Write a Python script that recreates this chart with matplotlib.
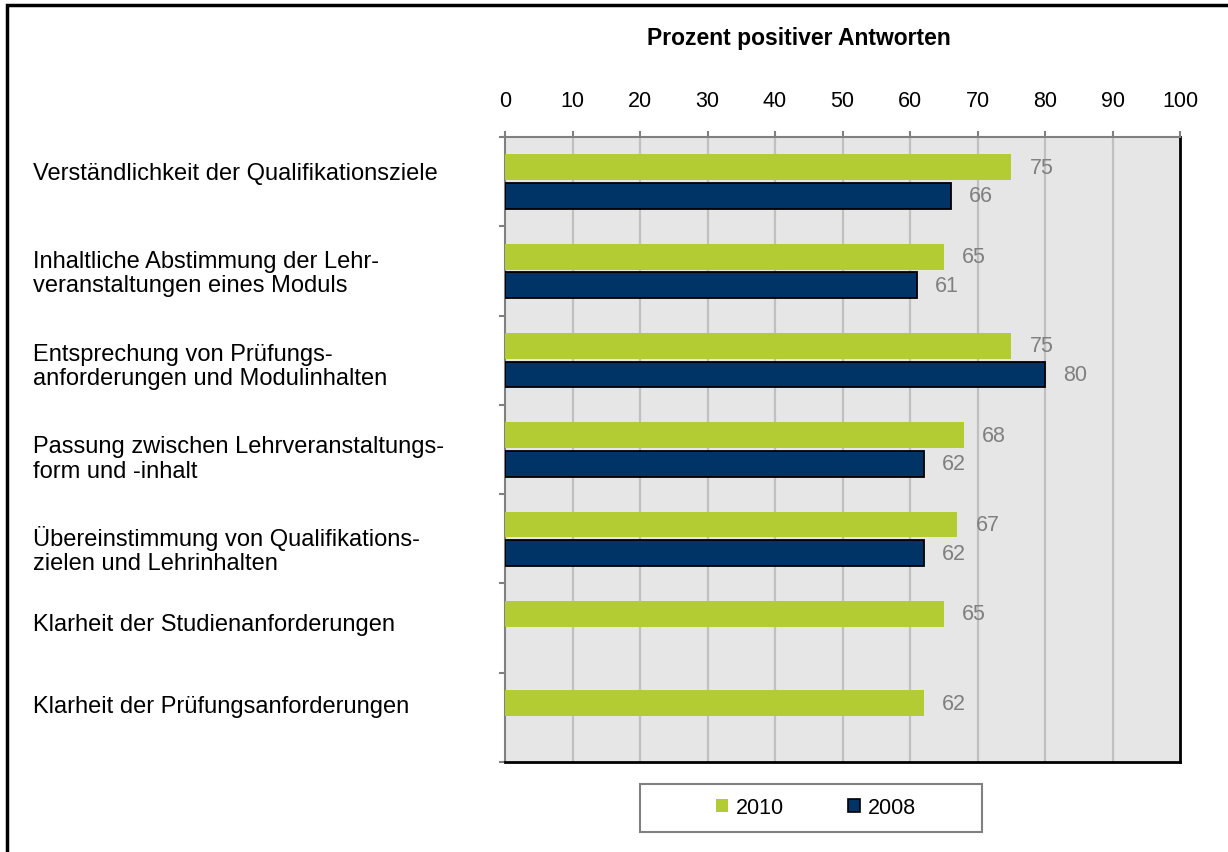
import matplotlib
matplotlib.use("Agg")
import matplotlib.pyplot as plt
import numpy as np
from matplotlib.patches import Rectangle, Patch

plt.rcParams['font.family'] = ['Liberation Sans', 'DejaVu Sans']

categories = [
    "Verständlichkeit der Qualifikationsziele",
    "Inhaltliche Abstimmung der Lehr-\nveranstaltungen eines Moduls",
    "Entsprechung von Prüfungs-\nanforderungen und Modulinhalten",
    "Passung zwischen Lehrveranstaltungs-\nform und -inhalt",
    "Übereinstimmung von Qualifikations-\nzielen und Lehrinhalten",
    "Klarheit der Studienanforderungen",
    "Klarheit der Prüfungsanforderungen",
]
values_2010 = [75, 65, 75, 68, 67, 65, 62]
values_2008 = [66, 61, 80, 62, 62, np.nan, np.nan]
series_names = ["2010", "2008"]
xticks = list(range(0, 101, 10))
title = "Prozent positiver Antworten"

# layout only: vertical nudge (pixels, down positive) of the category labels
label_nudge_px = [-9, 2, 6, 9, 11, -4, -11]

green = "#b3cc34"
navy = "#003366"
W, H = 1228, 853
fig = plt.figure(figsize=(W / 100, H / 100), dpi=100)
ax = fig.add_axes([505 / W, 1 - 763 / H, (1180 - 505) / W, (763 - 138) / H])
ax.set_facecolor("#e6e6e6")

n = len(categories)
centers = np.arange(n) + 0.5
h = 0.29
off = 0.16
ax.barh(centers - off, values_2010, height=h, color=green, edgecolor="none", zorder=3)
v08 = np.array(values_2008, dtype=float)
ax.barh(centers + off, np.nan_to_num(v08), height=h, color=navy, edgecolor="black",
        linewidth=1.3, zorder=3)
for i, p in enumerate(ax.patches[n:]):
    if np.isnan(v08[i]):
        p.set_visible(False)

lab_fs = 15.5
for i, v in enumerate(values_2010):
    ax.text(v + 2.7, centers[i] - off, f"{v:g}", color="#808080", fontsize=lab_fs,
            va="center", ha="left", zorder=4)
for i, v in enumerate(v08):
    if not np.isnan(v):
        ax.text(v + 2.7, centers[i] + off, f"{v:g}", color="#808080", fontsize=lab_fs,
                va="center", ha="left", zorder=4)

ax.set_xlim(0, 100)
ax.set_ylim(n, 0)
ax.set_xticks(xticks)
ax.xaxis.tick_top()
ax.tick_params(axis="x", which="both", direction="out", length=4.5, width=1.5,
               color="#808080", labelsize=15.5, pad=14)
ax.set_yticks(np.arange(n + 1))
ax.set_yticklabels([])
ax.tick_params(axis="y", direction="out", length=4.5, width=1.5, color="#808080")
for x in xticks[1:-1]:
    ax.axvline(x, color="#c0c0c0", lw=1.6, zorder=1)

ax.spines["top"].set_color("#808080")
ax.spines["left"].set_color("#808080")
ax.spines["top"].set_linewidth(1.5)
ax.spines["left"].set_linewidth(1.5)
ax.spines["right"].set_color("black")
ax.spines["bottom"].set_color("black")
ax.spines["right"].set_linewidth(2)
ax.spines["bottom"].set_linewidth(2)

for i, c in enumerate(categories):
    y = 1 - (138 + (763 - 138) * centers[i] / n + label_nudge_px[i]) / H
    fig.text(33 / W, y, c, fontsize=17, ha="left", va="center", linespacing=1.13)

fig.text(799 / W, 1 - 38 / H, title, fontsize=16.5, fontweight="bold",
         ha="center", va="center")

fig.patches.append(Rectangle((640 / W, 1 - 833 / H), (982 - 640) / W, 48 / H,
                             transform=fig.transFigure, facecolor="white",
                             edgecolor="#808080", lw=1.5))
handles = [Patch(facecolor=green, edgecolor="none"),
           Patch(facecolor=navy, edgecolor="black", linewidth=1.2)]
leg = fig.legend(handles, series_names, loc="center", bbox_to_anchor=(816 / W, 1 - 809 / H),
                 ncol=2, frameon=False, fontsize=15.5, handlelength=0.55, handleheight=0.55,
                 handletextpad=0.35, columnspacing=3.0)

fig.patches.append(Rectangle((7 / W, -0.1), 1.2, 1 - 6 / H + 0.1,
                             transform=fig.transFigure, facecolor="none",
                             edgecolor="black", lw=2.5))

fig.savefig("out.png", dpi=100)
